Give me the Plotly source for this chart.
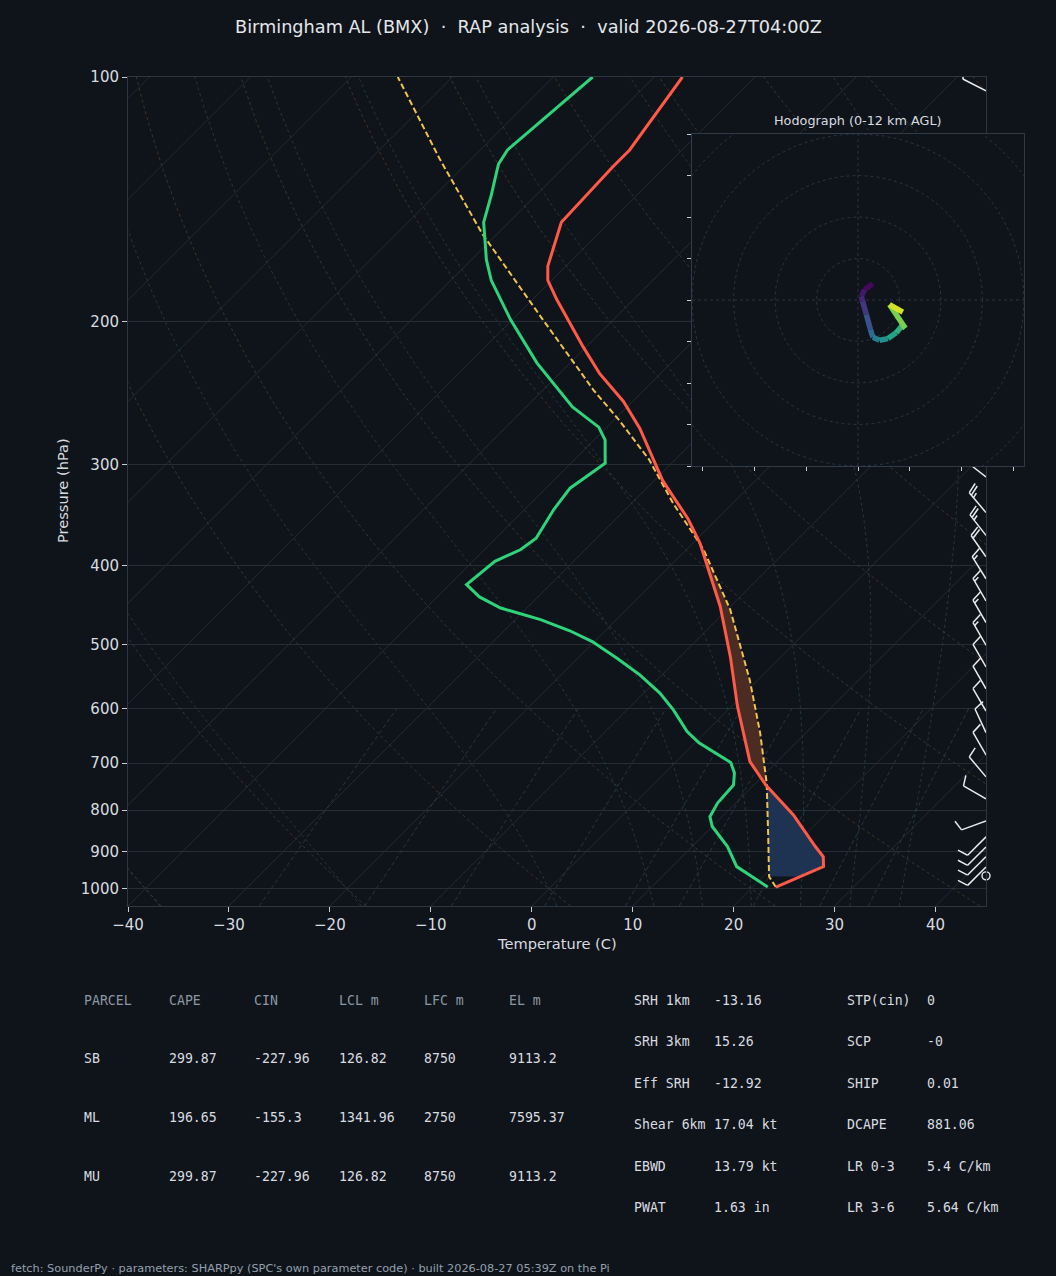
import numpy as np
import plotly.graph_objects as go
from plotly.colors import sample_colorscale

# ---------------- values ----------------
P_ENV = [995, 939, 913, 887, 811, 745, 697, 625, 596, 518, 449, 375, 350, 329,
         314, 271, 251, 232, 215, 188, 178, 171, 151, 129, 123, 100]
T_ENV = [22.3, 25.0, 24.0, 22.2, 16.9, 11.2, 7.3, 2.6, 0.6, -5.0, -11.0, -19.3,
         -22.9, -26.5, -29.2, -36.6, -40.9, -46.0, -50.3, -57.6, -60.4, -61.8,
         -64.8, -65.2, -65.2, -67.2]

P_DEW = [995, 939, 887, 838, 815, 784, 745, 720, 699, 661, 640, 602, 574, 545,
         520, 496, 481, 466, 451, 437, 422, 395, 382, 370, 341, 321, 299, 280,
         270, 255, 225, 199, 178, 168, 151, 140, 128, 123, 100]
TD_DEW = [21.5, 16.4, 13.5, 10.0, 8.8, 8.2, 8.0, 6.9, 5.5, 0.4, -1.9, -5.4, -8.4,
          -12.2, -16.1, -20.2, -23.5, -27.5, -32.6, -35.8, -38.3, -37.8, -36.4,
          -36.0, -37.1, -37.6, -36.6, -38.9, -40.8, -45.4, -53.3, -60.2, -66.0,
          -68.5, -72.5, -74.4, -76.8, -77.3, -76.1]

P_PCL = [995, 966, 854, 741, 643, 553, 453, 382, 335, 296, 265, 243, 197, 156, 126, 100]
T_PCL = [22.3, 20.6, 16.2, 11.1, 5.5, -0.8, -9.7, -18.3, -25.9, -32.6, -39.4,
         -45.0, -57.6, -71.5, -83.2, -95.4]

# hodograph (kt) and height (km AGL)
HODO_U = [3.5, 1.6, 0.8, 1.1, 2.0, 3.0, 3.6, 5.2, 7.2, 9.2, 10.7, 11.4, 7.6, 10.8]
HODO_V = [3.9, 2.5, 0.9, -0.3, -3.5, -7.1, -9.0, -9.7, -9.3, -7.9, -6.1, -6.8, -1.1, -2.9]
HODO_Z = [0.0, 0.5, 1.0, 1.5, 2.5, 3.5, 4.5, 5.5, 6.5, 7.3, 8.0, 8.5, 10.5, 12.0]

# wind barbs: pressure (hPa), direction (deg, from), speed (kt)
BARB_P = [104, 311, 344, 367, 390, 415, 442, 470, 501, 533, 567, 604, 642, 684,
          728, 775, 825, 863, 888, 913, 940, 964]
BARB_DIR = [297, 308, 320, 322, 325, 328, 330, 330, 330, 330, 330, 330, 335, 330,
            320, 300, 250, 225, 225, 225, 225, 0]
BARB_SPD = [10, 20, 25, 25, 20, 15, 15, 15, 15, 10, 10, 10, 10, 10,
            10, 10, 10, 10, 10, 10, 10, 0]

X_TICKS = [-40, -30, -20, -10, 0, 10, 20, 30, 40]
Y_TICKS = [100, 200, 300, 400, 500, 600, 700, 800, 900, 1000]
HODO_XT = [-37.5, -25, -12.5, 0, 12.5, 25, 37.5]
HODO_YT = [-40, -30, -20, -10, 0, 10, 20, 30, 40]
HODO_RINGS = [10, 20, 30, 40, 50, 60]

DRY_THETA = list(range(-40, 201, 20))
MOIST_T0 = [-40, -20, 0, 10, 15, 20, 25, 30, 35]
MIX_W = [0.0004, 0.001, 0.002, 0.004, 0.007, 0.01, 0.016, 0.024, 0.032]

TITLE = "Birmingham AL (BMX)  ·  RAP analysis  ·  valid 2026-08-27T04:00Z"
PARCEL_HEADER = ["PARCEL", "CAPE", "CIN", "LCL m", "LFC m", "EL m"]
PARCEL_ROWS = [["SB", "299.87", "-227.96", "126.82", "8750", "9113.2"],
               ["ML", "196.65", "-155.3", "1341.96", "2750", "7595.37"],
               ["MU", "299.87", "-227.96", "126.82", "8750", "9113.2"]]
PARAM_A = [("SRH 1km", "-13.16"), ("SRH 3km", "15.26"), ("Eff SRH", "-12.92"),
           ("Shear 6km", "17.04 kt"), ("EBWD", "13.79 kt"), ("PWAT", "1.63 in")]
PARAM_B = [("STP(cin)", "0"), ("SCP", "-0"), ("SHIP", "0.01"), ("DCAPE", "881.06"),
           ("LR 0-3", "5.4 C/km"), ("LR 3-6", "5.64 C/km")]
FOOTER = "fetch: SounderPy · parameters: SHARPpy (SPC's own parameter code) · built 2026-08-27 05:39Z on the Pi"

# ---------------- geometry / style ----------------
W, H = 1056, 1276
PL, PR, PT, PB = 128, 986, 77, 906          # skew-T plot box (px)
HL, HR, HT, HB = 692, 1024, 134, 466        # hodograph box (px)
X_MIN, X_MAX = -40.0, 45.0
P_BOT, P_TOP = 1050.0, 100.0
LOG_BOT, LOG_TOP = np.log10(P_BOT), np.log10(P_TOP)
SKEW = (X_MAX - X_MIN) * (PB - PT) / (PR - PL)   # 45 degree skew in pixels
PXX = (PR - PL) / (X_MAX - X_MIN)
PXD = (PB - PT) / (LOG_BOT - LOG_TOP)

BG = "#0f141a"
AX_C = "#2e3641"
GRID_C = "#262d36"
TICK_C = "#c9cdd2"
TXT_C = "#d8dce0"
HEAD_C = "#8b97a4"
FONT = "DejaVu Sans"
MONO = "DejaVu Sans Mono"


def skx(t, p):
    p = np.asarray(p, float)
    return np.asarray(t, float) + SKEW * (LOG_BOT - np.log10(p)) / (LOG_BOT - LOG_TOP)


def join(lines):
    xs, ys = [], []
    for x, y in lines:
        xs += list(np.asarray(x, float)) + [None]
        ys += list(np.asarray(y, float)) + [None]
    return xs, ys


fig = go.Figure()


def line_trace(xs, ys, color, width, dash=None, xa="x", ya="y"):
    fig.add_trace(go.Scatter(x=xs, y=ys, mode="lines", xaxis=xa, yaxis=ya,
                             line=dict(color=color, width=width, dash=dash),
                             hoverinfo="skip", showlegend=False))


# ---------------- thermodynamic background ----------------
pp = np.logspace(LOG_BOT, LOG_TOP, 90)
iso = [(skx([t, t], [P_BOT, P_TOP]), [P_BOT, P_TOP]) for t in range(-130, 50, 10)]
line_trace(*join(iso), GRID_C, 0.9)

dry = []
for th in DRY_THETA:
    tt = (th + 273.15) * (pp / 1000.0) ** 0.2857 - 273.15
    dry.append((skx(tt, pp), pp))
line_trace(*join(dry), "#4d3b2b", 0.8, "3px,3px")


def dtdp(T, p):
    Rd, cp, Lv, eps = 287.04, 1005.7, 2.501e6, 0.622
    es = 6.112 * np.exp(17.67 * (T - 273.15) / (T - 29.65))
    rs = eps * es / (p - es)
    return (Rd * T + Lv * rs) / (p * (cp + Lv * Lv * rs * eps / (Rd * T * T)))


def moist(t0c):
    T = t0c + 273.15
    pdown = np.linspace(1000, P_BOT, 6)
    for i in range(1, len(pdown)):
        dp = pdown[i] - pdown[i - 1]
        k1 = dtdp(T, pdown[i - 1]); k2 = dtdp(T + k1 * dp, pdown[i])
        T = T + 0.5 * (k1 + k2) * dp
    pu = np.logspace(LOG_BOT, LOG_TOP, 220)
    out = [T]
    for i in range(1, len(pu)):
        dp = pu[i] - pu[i - 1]
        k1 = dtdp(T, pu[i - 1]); k2 = dtdp(T + k1 * dp, pu[i])
        T = T + 0.5 * (k1 + k2) * dp
        out.append(T)
    return pu, np.array(out) - 273.15


mst = []
for t0 in MOIST_T0:
    pu, tt = moist(t0)
    mst.append((skx(tt, pu), pu))
line_trace(*join(mst), "#24404a", 0.8, "3px,3px")

mix = []
pm = np.linspace(P_BOT, 600, 20)
for w in MIX_W:
    e = w * pm / (0.622 + w)
    le = np.log(e / 6.112)
    td = 243.5 * le / (17.67 - le)
    mix.append((skx(td, pm), pm))
line_trace(*join(mix), "#27404f", 0.8, "4px,3px")


# ---------------- CIN / CAPE shading ----------------
def interp_lp(P, T, pg):
    return np.interp(np.log10(pg), np.log10(P)[::-1], np.asarray(T, float)[::-1])


def shade(p_lo, p_hi, color, env_warm):
    pg = np.logspace(np.log10(p_lo), np.log10(p_hi), 80)
    te = interp_lp(P_ENV, T_ENV, pg)
    tp = interp_lp(P_PCL, T_PCL, pg)
    if env_warm:
        a, b = tp, np.maximum(te, tp)
    else:
        a, b = te, np.maximum(tp, te)
    xs = list(skx(a, pg)) + list(skx(b, pg)[::-1])
    ys = list(pg) + list(pg[::-1])
    fig.add_trace(go.Scatter(x=xs, y=ys, mode="lines", fill="toself", fillcolor=color,
                             line=dict(width=0, color=color), hoverinfo="skip",
                             showlegend=False))


shade(966, 745, "rgba(31,53,84,0.95)", True)
shade(745, 370, "rgba(78,45,35,0.95)", False)

# ---------------- profiles ----------------
line_trace(list(skx(T_PCL, P_PCL)), P_PCL, "#f2c14e", 2.0, "6px,3px")
line_trace(list(skx(TD_DEW, P_DEW)), P_DEW, "#2fd37a", 3.0)
line_trace(list(skx(T_ENV, P_ENV)), P_ENV, "#ff5a47", 3.0)

# ---------------- wind barbs at the right edge ----------------
L = 26.0
bx, by = [], []


def to_data(p0, dx, dy):
    return X_MAX + dx / PXX, p0 * 10 ** (-dy / PXD)


def seg(p0, a, b):
    x1, y1 = to_data(p0, *a)
    x2, y2 = to_data(p0, *b)
    bx.extend([x1, x2, None]); by.extend([y1, y2, None])


calm_p = []
for p0, d, s in zip(BARB_P, BARB_DIR, BARB_SPD):
    if s < 2.5:
        calm_p.append(p0)
        continue
    r = np.deg2rad(d)
    ux, uy = np.sin(r), np.cos(r)        # staff direction (toward where wind comes from)
    qx, qy = uy, -ux                      # feather side (clockwise)
    seg(p0, (0, 0), (L * ux, L * uy))
    s5 = int(round(s / 5.0)) * 5
    n50, rem = divmod(s5, 50)
    n10, rem = divmod(rem, 10)
    n5 = rem // 5
    sp, hh, ww = 0.125 * L, 0.4 * L, 0.25 * L
    off = L
    for _ in range(n50):
        a = (off * ux, off * uy)
        b = (off * ux + hh * qx - ww / 2 * ux, off * uy + hh * qy - ww / 2 * uy)
        c = ((off - ww) * ux, (off - ww) * uy)
        seg(p0, a, b); seg(p0, b, c)
        off -= ww + sp
    for _ in range(n10):
        a = (off * ux, off * uy)
        b = (a[0] + hh * qx + ww / 2 * ux, a[1] + hh * qy + ww / 2 * uy)
        seg(p0, a, b)
        off -= sp
    if n5:
        if off == L:
            off -= 1.5 * sp
        a = (off * ux, off * uy)
        b = (a[0] + hh / 2 * qx + ww / 4 * ux, a[1] + hh / 2 * qy + ww / 4 * uy)
        seg(p0, a, b)

line_trace(bx, by, "#e9ebee", 1.5)
fig.add_trace(go.Scatter(x=[X_MAX] * len(calm_p), y=calm_p, mode="markers", cliponaxis=False,
                         marker=dict(symbol="circle-open", size=8, color="#e9ebee",
                                     line=dict(width=1.4, color="#e9ebee")),
                         hoverinfo="skip", showlegend=False))

# ---------------- hodograph inset ----------------
th = np.linspace(0, 2 * np.pi, 240)
rings = [(r * np.cos(th), r * np.sin(th)) for r in HODO_RINGS]
line_trace(*join(rings), "#2c3643", 0.9, "3px,3px", "x2", "y2")
line_trace([-40, 40, None, 0, 0], [0, 0, None, -40, 40], "#2c3643", 0.9, "3px,3px", "x2", "y2")
for i in range(len(HODO_U) - 1):
    zm = 0.5 * (HODO_Z[i] + HODO_Z[i + 1]) / 12.0
    col = sample_colorscale("Viridis", [zm])[0]
    line_trace([HODO_U[i], HODO_U[i + 1]], [HODO_V[i], HODO_V[i + 1]], col, 5.5, None, "x2", "y2")


# ---------------- text ----------------
def ann(text, px, py, size, color, family=FONT, xanchor="left", angle=0):
    fig.add_annotation(text=text, x=px / W, y=1 - py / H, xref="paper", yref="paper",
                       showarrow=False, xanchor=xanchor, yanchor="middle", textangle=angle,
                       borderpad=0, font=dict(size=size, color=color, family=family))


ann(TITLE.replace("  ", "\u00a0\u00a0"), 528, 27, 17.7, "#e4e7ea", xanchor="center")
ann("Temperature (C)", (PL + PR) / 2, 943, 14.6, TXT_C, xanchor="center")
ann("Pressure (hPa)", 63, 491, 14.6, TXT_C, xanchor="center", angle=-90)
ann("Hodograph (0-12 km AGL)", 858, 120, 12.8, TXT_C, xanchor="center")

COLS = [83, 168, 253, 338, 423, 508]
ROWS = [1000, 1058, 1117, 1176]
for c, t in zip(COLS, PARCEL_HEADER):
    ann(t, c, ROWS[0], 13.2, HEAD_C, MONO)
for r, row in zip(ROWS[1:], PARCEL_ROWS):
    for c, t in zip(COLS, row):
        ann(t, c, r, 13.2, TXT_C, MONO)
PROWS = [1000, 1041, 1083, 1124, 1166, 1207]
for r, (k, v) in zip(PROWS, PARAM_A):
    ann(k, 633, r, 13.2, TXT_C, MONO)
    ann(v, 713, r, 13.2, TXT_C, MONO)
for r, (k, v) in zip(PROWS, PARAM_B):
    ann(k, 846, r, 13.2, TXT_C, MONO)
    ann(v, 926, r, 13.2, TXT_C, MONO)
ann(FOOTER, 10, 1268, 11.3, "#93a0ad")

minus = lambda v: ("\u2212" + str(abs(v))) if v < 0 else str(v)
axis_common = dict(ticks="outside", ticklen=5, tickwidth=1, tickcolor=TICK_C,
                   tickfont=dict(size=15, color=TXT_C, family=FONT), automargin=False,
                   zeroline=False, showline=True, linecolor=AX_C, linewidth=1, mirror=True)
hodo_common = dict(range=[-40, 40], showticklabels=False, ticks="outside", ticklen=4,
                   tickcolor=TICK_C, showgrid=False, zeroline=False, showline=True,
                   linecolor="#2f3b49", mirror=True, automargin=False)
fig.update_layout(
    width=W, height=H, autosize=False,
    margin=dict(l=0, r=0, t=0, b=0, pad=0, autoexpand=False),
    paper_bgcolor=BG, plot_bgcolor=BG, showlegend=False,
    font=dict(family=FONT, color=TXT_C),
    xaxis=dict(domain=[PL / W, PR / W], range=[X_MIN, X_MAX], anchor="y",
               tickvals=X_TICKS, ticktext=[minus(v) for v in X_TICKS],
               showgrid=False, **axis_common),
    yaxis=dict(domain=[1 - PB / H, 1 - PT / H], type="log", range=[LOG_BOT, LOG_TOP],
               anchor="x", tickvals=Y_TICKS, ticktext=[str(v) for v in Y_TICKS],
               showgrid=True, gridcolor=GRID_C, gridwidth=0.9, **axis_common),
    xaxis2=dict(domain=[HL / W, HR / W], anchor="y2", tickvals=HODO_XT, **hodo_common),
    yaxis2=dict(domain=[1 - HB / H, 1 - HT / H], anchor="x2", tickvals=HODO_YT, **hodo_common),
)

fig.write_html("out.html", config={"displayModeBar": False, "responsive": False},
               post_script=(
    "document.body.style.margin='0';document.body.style.padding='0';"
    "document.body.style.overflow='hidden';document.body.style.background='" + BG + "';"
    "document.documentElement.style.background='" + BG + "';"))
